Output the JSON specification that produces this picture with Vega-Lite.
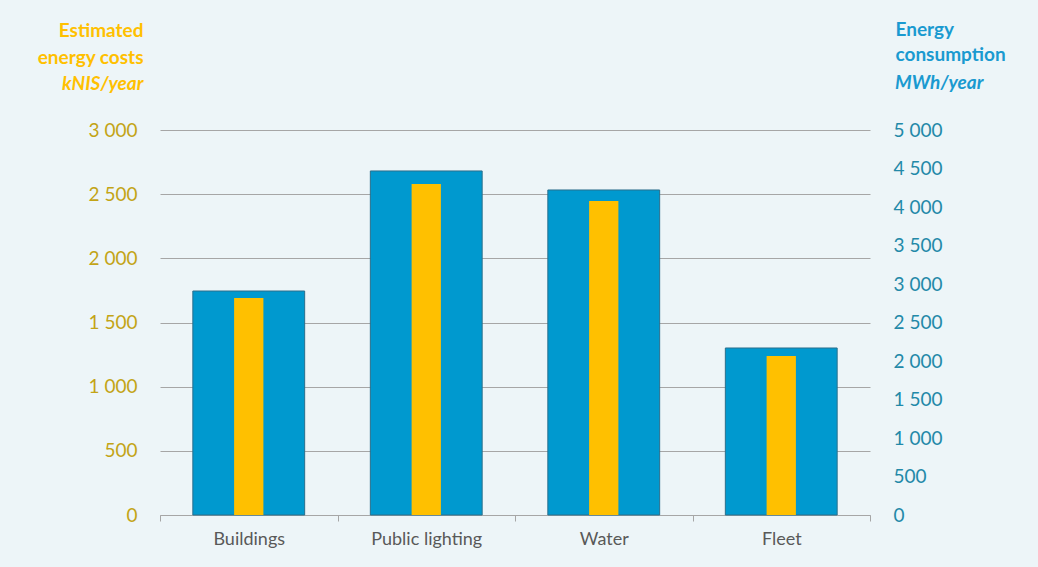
{
  "$schema": "https://vega.github.io/schema/vega-lite/v6.json",
  "width": 710,
  "height": 385,
  "autosize": {"type": "none"},
  "padding": {"left": 160, "top": 130, "right": 168, "bottom": 52},
  "background": "#EDF5F8",
  "config": {
    "locale": {"number": {"decimal": ".", "thousands": " ", "grouping": [3], "currency": ["", ""]}},
    "view": {"stroke": null},
    "font": "Lato"
  },
  "title": {
    "text": "MWh/year",
    "anchor": "end",
    "align": "left",
    "frame": "group",
    "dx": 25,
    "dy": 113,
    "offset": 40,
    "fontStyle": "italic",
    "fontWeight": "bold",
    "fontSize": 19,
    "color": "#1A9AD0"
  },
  "data": {
    "values": [
      {"sector": "Buildings", "cost": 1691, "consumption": 2909},
      {"sector": "Public lighting", "cost": 2579, "consumption": 4468},
      {"sector": "Water", "cost": 2447, "consumption": 4221},
      {"sector": "Fleet", "cost": 1239, "consumption": 2169}
    ]
  },
  "layer": [
    {
      "mark": {"type": "bar", "width": {"band": 0.63}, "color": "#0099CF", "stroke": "#2A6F8C", "strokeWidth": 1},
      "encoding": {
        "x": {
          "field": "sector", "type": "nominal", "sort": null,
          "scale": {"paddingInner": 0, "paddingOuter": 0},
          "axis": {
            "orient": "bottom", "title": null, "labelAngle": 0,
            "domainColor": "#A6A6A6", "tickColor": "#A6A6A6", "tickSize": 6, "tickBand": "extent",
            "labelFontSize": 18, "labelColor": "#595959", "labelPadding": 9
          }
        },
        "y": {
          "field": "consumption", "type": "quantitative",
          "scale": {"domain": [0, 5000], "nice": false},
          "axis": {
            "orient": "right", "values": [0, 500, 1000, 1500, 2000, 2500, 3000, 3500, 4000, 4500, 5000],
            "format": ",d", "grid": false, "domain": false, "ticks": false,
            "labelPadding": 23, "labelFontSize": 19, "labelColor": "#2389A8",
            "title": ["Energy", "consumption"], "titleAngle": 0, "titleAlign": "left", "titleBaseline": "top",
            "titleX": 25, "titleY": -110, "titleLineHeight": 25, "titleFontSize": 19, "titleFontWeight": "bold", "titleColor": "#1A9AD0"
          }
        }
      }
    },
    {
      "mark": {"type": "bar", "width": {"band": 0.165}, "color": "#FFC000"},
      "encoding": {
        "x": {
          "field": "sector", "type": "nominal", "sort": null,
          "scale": {"paddingInner": 0, "paddingOuter": 0},
          "axis": {
            "orient": "top", "labels": false, "ticks": false, "domain": false, "grid": false,
            "title": "kNIS/year", "titleAngle": 0, "titleAlign": "right", "titleBaseline": "top",
            "titleX": -17, "titleY": -56, "titleFontSize": 19, "titleFontWeight": "bold", "titleFontStyle": "italic", "titleColor": "#FFC000"
          }
        },
        "y": {
          "field": "cost", "type": "quantitative",
          "scale": {"domain": [0, 3000], "nice": false},
          "axis": {
            "orient": "left", "values": [0, 500, 1000, 1500, 2000, 2500, 3000],
            "format": ",d", "grid": true, "gridColor": "#A6A6A6", "gridWidth": 1, "domain": false, "ticks": false,
            "labelPadding": 23, "labelFontSize": 19, "labelColor": "#C3A416",
            "title": ["Estimated", "energy costs"], "titleAngle": 0, "titleAlign": "right", "titleBaseline": "top",
            "titleX": -17, "titleY": -109, "titleLineHeight": 27, "titleFontSize": 19, "titleFontWeight": "bold", "titleColor": "#FFC000"
          }
        }
      }
    }
  ],
  "resolve": {"scale": {"y": "independent"}, "axis": {"x": "independent", "y": "independent"}}
}
